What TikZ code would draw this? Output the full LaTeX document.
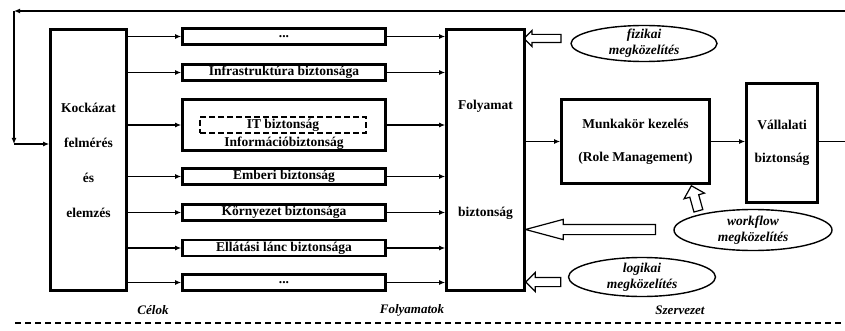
\documentclass[tikz,border=0pt]{standalone}
\usepackage{fontspec}
\setmainfont{Liberation Serif}
\usetikzlibrary{positioning, arrows.meta, shapes.geometric, shapes.arrows, calc}

\begin{document}
\begin{tikzpicture}[x=1pt, y=-1pt,
    txt/.style={font=\bfseries\fontsize{13.5}{16}\selectfont},
    blk/.style={draw, line width=2.6pt, inner sep=0pt, align=center, txt},
    area/.style={blk, minimum width=203pt, minimum height=16pt},
    oval/.style={draw, ellipse, line width=1.4pt, inner sep=0pt},
    itx/.style={align=center, inner sep=0pt, font=\bfseries\itshape\fontsize{13.5}{16}\selectfont},
    tag/.style={font=\bfseries\itshape\fontsize{13}{15}\selectfont},
    arr/.style={-{Latex[length=6pt, width=5pt]}, line width=1.2pt},
    hollow/.style={single arrow, draw, line width=1.2pt, inner xsep=0pt, inner ysep=4pt,
        single arrow head extend=4pt}]
    \useasboundingbox (0,0) rectangle (845,331);

    \node[blk, minimum width=76pt, minimum height=261pt, font=\bfseries\fontsize{13.5}{35}\selectfont]
        (risk) at (88.5,160) {Kockázat\\felmérés\\és\\elemzés};

    \node[area] (dots1) at (284,36.5) {...};
    \node[area] (infra) at (284,72.5) {Infrastruktúra biztonsága};
    \node[area, minimum height=51pt] (info) at (284,125) {};
    \node[draw, line width=2.4pt, dash pattern=on 6pt off 3pt, minimum width=166pt, minimum height=16pt,
        inner sep=0pt, txt] (it) at (283,125) {IT biztonság};
    \node[txt, inner sep=0pt] (infotxt) at (284,143) {Információbiztonság};
    \node[area] (human) at (284,176.5) {Emberi biztonság};
    \node[area] (env) at (284,212.5) {Környezet biztonsága};
    \node[area] (supply) at (284,248) {Ellátási lánc biztonsága};
    \node[area] (dots2) at (284,282.5) {...};

    \node[blk, minimum width=78pt, minimum height=261pt, font=\bfseries\fontsize{13.5}{107}\selectfont]
        (proc) at (485.5,160) {Folyamat\\biztonság};
    \node[blk, minimum width=148pt, minimum height=84pt, font=\bfseries\fontsize{13.5}{33}\selectfont]
        (role) at (635.5,141.5) {Munkakör kezelés\\(Role Management)};
    \node[blk, minimum width=71pt, minimum height=119pt, font=\bfseries\fontsize{13.5}{33}\selectfont]
        (corp) at (782,143) {Vállalati\\biztonság};

    \node[oval, minimum width=146pt, minimum height=36pt] (phys) at (644,43.5) {};
    \node[itx] (physlbl) at (phys) {fizikai\\megközelítés};
    \node[oval, minimum width=158pt, minimum height=41pt] (flow) at (753,230) {};
    \node[itx] (flowlbl) at (flow) {workflow\\megközelítés};
    \node[oval, minimum width=147pt, minimum height=39pt] (logic) at (642,277) {};
    \node[itx] (logiclbl) at (logic) {logikai\\megközelítés};

    \node[hollow, rotate=180, inner ysep=3.5pt, minimum height=37pt] (physarr) at (544.5,38.5) {};
    \node[hollow, rotate=180, single arrow head extend=5pt, minimum height=35pt] (logicarr) at (545.5,282) {};
    \node[hollow, rotate=180, inner ysep=4.5pt, single arrow head extend=5pt, single arrow tip angle=30,
        minimum height=130pt] (flowarr) at (600,229.5) {};
    \node[hollow, rotate=105.6, single arrow head extend=6pt, minimum height=26pt] (uparr) at (695.5,200.5) {};

    \foreach \b in {dots1,infra,info,human,env,supply,dots2} {
        \draw[arr] (risk.east |- \b.west) -- (\b.west);
        \draw[arr] (\b.east) -- (proc.west |- \b.east);
    }
    \draw[arr] (proc.east |- role.west) -- (role.west);
    \draw[arr] (role.east) -- (corp.west |- role.east);
    \coordinate (out) at (845,141.5);
    \draw[line width=1.2pt] (corp.east |- role.east) -- (out);

    \coordinate (back) at (845,11);
    \coordinate (turn) at (14,11);
    \coordinate (down) at (14,144);
    \draw[arr] (back) -- (turn);
    \draw[arr] (turn) -- (down);
    \draw[arr] (down) -- (risk.west |- down);

    \node[tag] (goals) at (153,310) {Célok};
    \node[tag] (procs) at (412,310) {Folyamatok};
    \node[tag] (org) at (680,310) {Szervezet};
    \coordinate (sepl) at (15,323);
    \coordinate (sepr) at (845,323);
    \draw[line width=1.2pt, dash pattern=on 6pt off 4pt] (sepl) -- (sepr);
\end{tikzpicture}
\end{document}
